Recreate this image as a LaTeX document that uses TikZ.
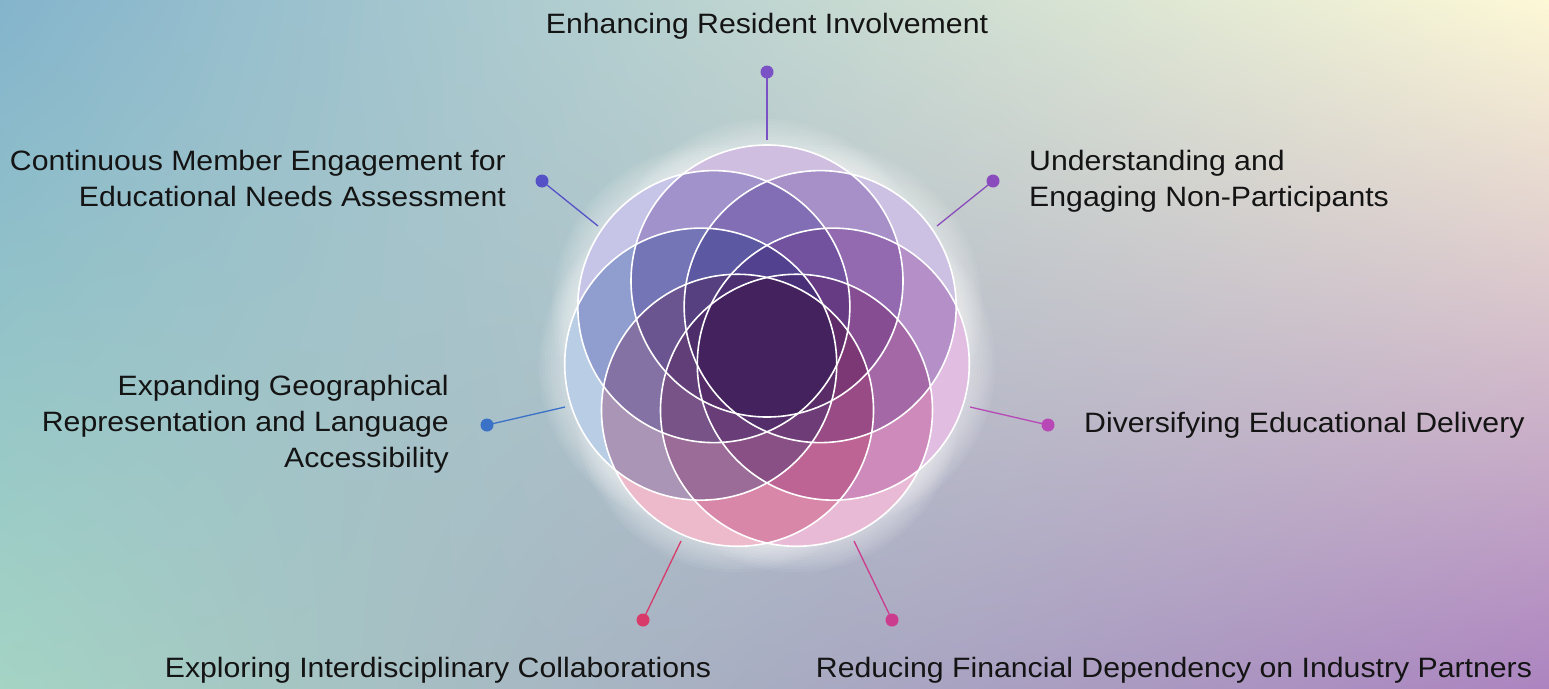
\documentclass[tikz,border=0pt]{standalone}
\usepackage{fontspec}
\setmainfont{Liberation Sans}[FakeStretch=1.08]
\usetikzlibrary{shadings}
\definecolor{bgtl}{RGB}{132,180,204}
\definecolor{bgtr}{RGB}{253,248,214}
\definecolor{bgbl}{RGB}{164,212,196}
\definecolor{bgbr}{RGB}{172,132,192}
\definecolor{ptop}{RGB}{208,190,225}
\definecolor{pul}{RGB}{198,196,231}
\definecolor{pl}{RGB}{185,205,229}
\definecolor{pbl}{RGB}{237,186,203}
\definecolor{pbr}{RGB}{233,186,213}
\definecolor{pr}{RGB}{225,190,225}
\definecolor{pur}{RGB}{205,193,227}
\definecolor{ctop}{RGB}{123,82,198}
\definecolor{cul}{RGB}{85,82,200}
\definecolor{cl}{RGB}{58,114,200}
\definecolor{cbl}{RGB}{216,58,106}
\definecolor{cbr}{RGB}{204,60,142}
\definecolor{cr}{RGB}{184,72,182}
\definecolor{cur}{RGB}{138,76,188}
\begin{document}
\begin{tikzpicture}[x=1pt,y=-1pt,
    lbl/.style={font=\fontsize{28}{36}\selectfont, inner sep=0pt, text=black!92},
    petal/.style={draw=white, line width=1.6pt},
    link/.style={draw=#1, line width=1.3pt}]
    % background
    \shade[upper left=bgtl, upper right=bgtr, lower left=bgbl, lower right=bgbr]
        (0,0) rectangle (1549,688);
    \coordinate (c) at (767,349);

    % glow behind the flower
    \foreach \a in {-90,-141.43,-192.86,-244.29,-295.71,-347.14,-38.57}{
        \foreach \r in {138,141,...,162}
            \fill[white, opacity=0.06] (c) ++(\a:68) circle (\r);
    }
    \foreach \a in {-90,-141.43,-192.86,-244.29,-295.71,-347.14,-38.57}
        \fill[white] (c) ++(\a:68) circle (136);

    % petals
    \begin{scope}[blend mode=multiply]
        \foreach \a/\col in {-90/ptop, -141.43/pul, -192.86/pl, -244.29/pbl,
                             -295.71/pbr, -347.14/pr, -38.57/pur}
            \fill[\col] (c) ++(\a:68) circle (136);
    \end{scope}
    \foreach \a in {-90,-141.43,-192.86,-244.29,-295.71,-347.14,-38.57}
        \draw[petal] (c) ++(\a:68) circle (136);

    % connectors
    \coordinate (top-end) at (767,140);   \coordinate (top-dot) at (767,72);
    \coordinate (ul-end) at (598,226);    \coordinate (ul-dot) at (542,181);
    \coordinate (ur-end) at (937,226);    \coordinate (ur-dot) at (993,181);
    \coordinate (l-end) at (565,407);     \coordinate (l-dot) at (487,425);
    \coordinate (r-end) at (970,407);     \coordinate (r-dot) at (1048,425);
    \coordinate (bl-end) at (681,541);    \coordinate (bl-dot) at (643,620);
    \coordinate (br-end) at (854,541);    \coordinate (br-dot) at (892,620);
    \foreach \n/\col in {top/ctop, ul/cul, ur/cur, l/cl, r/cr, bl/cbl, br/cbr}{
        \draw[link=\col] (\n-end) -- (\n-dot);
        \fill[\col] (\n-dot) circle (6.5);
    }

    % labels
    \node[lbl, anchor=base] (top-lbl) at (767,33) {Enhancing Resident Involvement};
    \node[lbl, anchor=north east, align=right] (ul-lbl) at (506,150)
        {Continuous Member Engagement for\\Educational Needs Assessment};
    \node[lbl, anchor=north west, align=left] (ur-lbl) at (1029,150)
        {Understanding and\\Engaging Non-Participants};
    \node[lbl, anchor=north east, align=right] (l-lbl) at (449,375)
        {Expanding Geographical\\Representation and Language\\Accessibility};
    \node[lbl, anchor=base west] (r-lbl) at (1084,432) {Diversifying Educational Delivery};
    \node[lbl, anchor=base] (bl-lbl) at (438,677) {Exploring Interdisciplinary Collaborations};
    \node[lbl, anchor=base] (br-lbl) at (1174,677) {Reducing Financial Dependency on Industry Partners};
\end{tikzpicture}
\end{document}
